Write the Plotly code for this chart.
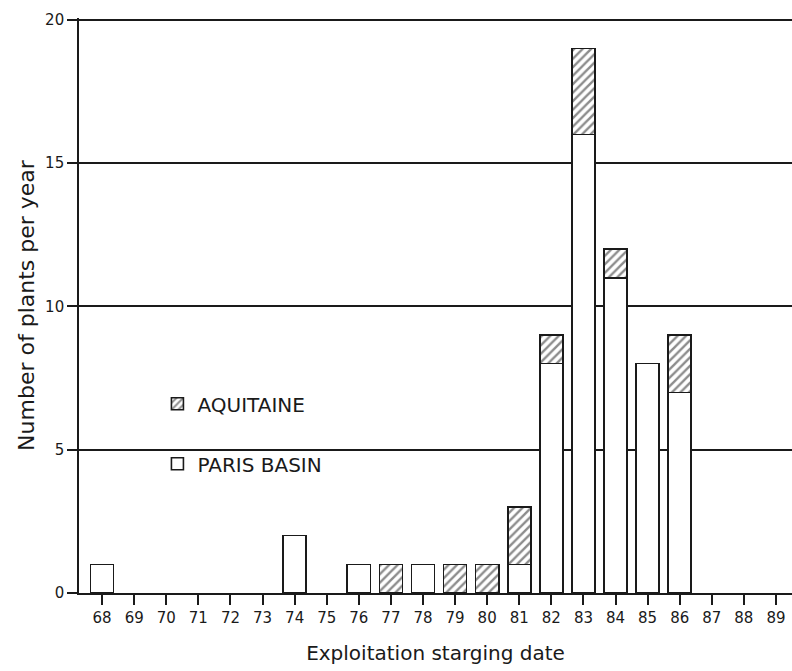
import plotly.graph_objects as go

# Start year of exploitation (two-digit years, 1968-1989)
years = list(range(68, 90))
year_labels = [str(y) for y in years]

# Plants per year, by basin
paris_basin = [1, 0, 0, 0, 0, 0, 2, 0, 1, 0, 1, 0, 0, 1, 8, 16, 11, 8, 7, 0, 0, 0]
aquitaine   = [0, 0, 0, 0, 0, 0, 0, 0, 0, 1, 0, 1, 1, 2, 1, 3, 1, 0, 2, 0, 0, 0]

y_ticks = [0, 5, 10, 15, 20]

INK = "#1a1a1a"
FONT = "DejaVu Sans"


def blank_zero(values):
    return [v if v else None for v in values]


fig = go.Figure()

fig.add_trace(go.Bar(
    x=years, y=blank_zero(paris_basin), name="PARIS BASIN",
    width=0.72,
    marker=dict(color="white", line=dict(color=INK, width=1.6)),
    legendgroup="paris", legendrank=2,
))
fig.add_trace(go.Bar(
    x=years, y=blank_zero(aquitaine), name="AQUITAINE",
    width=0.72,
    marker=dict(
        color="white",
        line=dict(color=INK, width=1.6),
        pattern=dict(shape="/", fgcolor=INK, bgcolor="white", size=6, solidity=0.4),
    ),
    legendgroup="aquitaine", legendrank=1,
))

fig.update_layout(
    width=792, height=671,
    margin=dict(l=79, r=0, t=18, b=78),
    paper_bgcolor="white", plot_bgcolor="white",
    barmode="stack",
    font=dict(family=FONT, color=INK, size=15),
    showlegend=True,
    legend=dict(
        x=0.11, y=0.363, xanchor="left", yanchor="top",
        traceorder="grouped", tracegroupgap=31,
        bgcolor="rgba(0,0,0,0)",
        font=dict(size=20, family=FONT, color=INK),
    ),
    xaxis=dict(
        range=[67.28, 89.5],
        tickmode="array", tickvals=years, ticktext=year_labels,
        ticks="outside", ticklen=10, tickwidth=1.5, tickcolor=INK,
        showgrid=False, zeroline=False,
        showline=True, linecolor=INK, linewidth=1.6,
        tickfont=dict(size=15),
        title=dict(text="Exploitation starging date", font=dict(size=20), standoff=20),
        automargin=False,
    ),
    yaxis=dict(
        range=[0, 20.06],
        tickmode="array", tickvals=y_ticks,
        ticks="outside", ticklen=10, tickwidth=1.5, tickcolor=INK,
        showgrid=True, gridcolor=INK, gridwidth=1.6,
        zeroline=False,
        showline=True, linecolor=INK, linewidth=1.6,
        tickfont=dict(size=15),
        title=dict(text="Number of plants per year", font=dict(size=22), standoff=4),
        automargin=False,
    ),
)

fig.write_html("out.html")
